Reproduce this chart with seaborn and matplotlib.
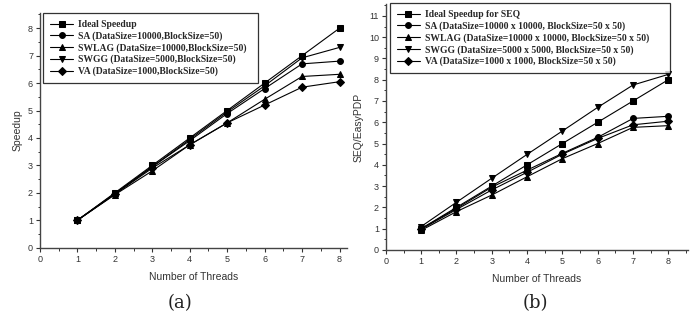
import numpy as np
import pandas as pd
import matplotlib
matplotlib.use("Agg")
import matplotlib.pyplot as plt
from matplotlib.ticker import MultipleLocator
import seaborn as sns

sns.set_theme(style="ticks")
plt.rcParams["font.family"] = ["Liberation Sans", "DejaVu Sans"]

threads = [1, 2, 3, 4, 5, 6, 7, 8]

# panel (a) - speedup
a_labels = [
    "Ideal Speedup",
    "SA (DataSize=10000,BlockSize=50)",
    "SWLAG (DataSize=10000,BlockSize=50)",
    "SWGG (DataSize=5000,BlockSize=50)",
    "VA (DataSize=1000,BlockSize=50)",
]
a_ideal = [1, 2, 3, 4, 5, 6, 7, 8]
a_sa    = [1.0, 1.97, 2.95, 3.9, 4.89, 5.80, 6.70, 6.80]
a_swlag = [1.0, 1.93, 2.80, 3.75, 4.55, 5.41, 6.24, 6.32]
a_swgg  = [1.0, 1.97, 2.95, 3.95, 4.95, 5.90, 6.92, 7.30]
a_va    = [1.0, 1.95, 2.90, 3.75, 4.55, 5.20, 5.85, 6.05]

# panel (b) - SEQ/EasyPDP
b_labels = [
    "Ideal Speedup for SEQ",
    "SA (DataSize=10000 x 10000, BlockSize=50 x 50)",
    "SWLAG (DataSize=10000 x 10000, BlockSize=50 x 50)",
    "SWGG (DataSize=5000 x 5000, BlockSize=50 x 50)",
    "VA (DataSize=1000 x 1000, BlockSize=50 x 50)",
]
b_ideal = [1, 2, 3, 4, 5, 6, 7, 8]
b_sa    = [1.0, 1.95, 2.95, 3.75, 4.54, 5.29, 6.18, 6.28]
b_swlag = [0.92, 1.80, 2.58, 3.44, 4.29, 5.00, 5.76, 5.84]
b_swgg  = [1.10, 2.24, 3.37, 4.49, 5.59, 6.70, 7.75, 8.25]
b_va    = [0.97, 1.90, 2.82, 3.65, 4.50, 5.24, 5.88, 6.05]

markers = ["s", "o", "^", "v", "D"]
legend_font = {"family": "Liberation Serif", "weight": "bold", "size": 6.9}

fig = plt.figure(figsize=(6.94, 3.2), dpi=100)
ax1 = fig.add_axes([0.0576, 0.226, 0.4424, 0.733])
ax2 = fig.add_axes([0.556, 0.219, 0.435, 0.768])


def draw(ax, labels, series, lims, ymax_tick, ylabel):
    for lab, vals, mk in zip(labels, series, markers):
        sns.lineplot(x=threads, y=vals, ax=ax, color="black", linewidth=0.8,
                     marker=mk, markersize=4.2 if mk != "D" else 3.6,
                     markeredgecolor="black", markerfacecolor="black",
                     label=lab)
    ax.set_xlim(0, lims[0])
    ax.set_ylim(0, lims[1])
    ax.xaxis.set_major_locator(MultipleLocator(1))
    ax.xaxis.set_minor_locator(MultipleLocator(0.5))
    ax.set_yticks(range(0, ymax_tick + 1))
    ax.yaxis.set_minor_locator(MultipleLocator(0.5))
    ax.tick_params(which="major", direction="out", length=3, width=0.8,
                   labelsize=6.5, labelcolor="#333333", color="#333333", pad=2)
    ax.tick_params(which="minor", direction="out", length=1.8, width=0.7,
                   color="#333333")
    for s in ["top", "right"]:
        ax.spines[s].set_visible(False)
    for s in ["left", "bottom"]:
        ax.spines[s].set_linewidth(1.0)
        ax.spines[s].set_color("#444444")
    ax.set_xlabel("Number of Threads", fontsize=7.5, color="#333333", labelpad=6)
    ax.set_ylabel(ylabel, fontsize=7.5, color="#333333", labelpad=4)


def legend(ax, x0, w, top):
    leg = ax.legend(loc="upper left", bbox_to_anchor=(x0, 0, w, top),
                    mode="expand", borderaxespad=0, prop=legend_font,
                    frameon=True, fancybox=False, edgecolor="black",
                    handlelength=2.4, labelspacing=0.22, borderpad=0.75,
                    handletextpad=0.5)
    leg.get_frame().set_linewidth(0.9)


draw(ax1, a_labels, [a_ideal, a_sa, a_swlag, a_swgg, a_va], (8.2, 8.55), 8, "Speedup")
draw(ax2, b_labels, [b_ideal, b_sa, b_swlag, b_swgg, b_va], (8.55, 11.55), 11, "SEQ/EasyPDP")

legend(ax1, 0.01, 0.70, 1.0)
legend(ax2, 0.013, 0.927, 1.004)

fig.text(180 / 694, 1 - 303 / 320, "(a)", ha="center", va="center",
         fontsize=13, family="DejaVu Serif", color="#222222")
fig.text(535 / 694, 1 - 303 / 320, "(b)", ha="center", va="center",
         fontsize=13, family="DejaVu Serif", color="#222222")

fig.savefig("out.png", dpi=100)
